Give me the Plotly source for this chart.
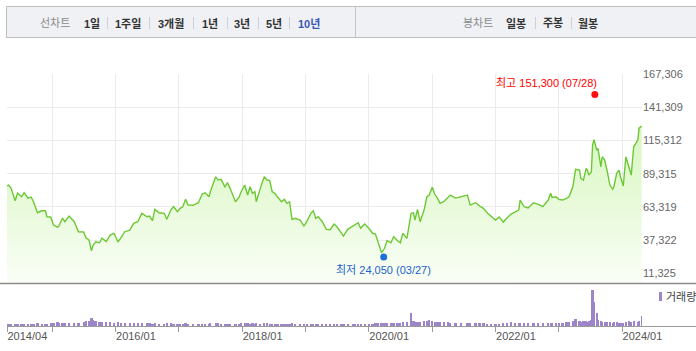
import plotly.graph_objects as go

# ---------------- data ----------------
dates = [
    "2014-04-15", "2014-04-23", "2014-05-08", "2014-06-01", "2014-06-15", "2014-07-08", "2014-07-23", "2014-08-15", "2014-09-01", "2014-09-15",
    "2014-10-08", "2014-11-01", "2014-11-23", "2014-12-01", "2014-12-23", "2015-01-08", "2015-02-01", "2015-02-08", "2015-03-01", "2015-03-15",
    "2015-04-08", "2015-05-08", "2015-06-01", "2015-07-01", "2015-07-15", "2015-08-01", "2015-08-15", "2015-08-23", "2015-09-08", "2015-10-01",
    "2015-10-15", "2015-11-08", "2015-12-01", "2015-12-23", "2016-01-15", "2016-02-01", "2016-02-23", "2016-03-23", "2016-04-15", "2016-05-08",
    "2016-06-01", "2016-07-01", "2016-07-15", "2016-08-01", "2016-08-15", "2016-09-08", "2016-10-08", "2016-10-23", "2016-11-15", "2016-12-01",
    "2016-12-23", "2017-01-08", "2017-01-23", "2017-02-08", "2017-02-23", "2017-03-23", "2017-04-23", "2017-05-15", "2017-06-01", "2017-06-23",
    "2017-07-01", "2017-08-01", "2017-08-15", "2017-09-01", "2017-09-23", "2017-10-08", "2017-10-23", "2017-11-23", "2017-12-15", "2017-12-23",
    "2018-01-15", "2018-02-01", "2018-02-15", "2018-03-01", "2018-03-15", "2018-03-23", "2018-04-15", "2018-05-08", "2018-05-23", "2018-06-08",
    "2018-06-23", "2018-07-08", "2018-07-23", "2018-08-15", "2018-09-01", "2018-09-15", "2018-10-01", "2018-10-15", "2018-11-01", "2018-12-01",
    "2018-12-23", "2019-01-08", "2019-02-01", "2019-02-15", "2019-03-01", "2019-03-15", "2019-04-08", "2019-05-01", "2019-05-23", "2019-06-15",
    "2019-07-01", "2019-07-23", "2019-08-08", "2019-09-01", "2019-10-01", "2019-10-15", "2019-11-01", "2019-11-15", "2019-12-08", "2020-01-01",
    "2020-01-23", "2020-02-08", "2020-02-23", "2020-03-15", "2020-04-01", "2020-04-15", "2020-05-08", "2020-05-23", "2020-06-15", "2020-07-01",
    "2020-07-15", "2020-08-08", "2020-09-01", "2020-09-15", "2020-09-23", "2020-10-08", "2020-10-23", "2020-11-15", "2020-12-01", "2020-12-15",
    "2021-01-01", "2021-01-15", "2021-02-01", "2021-02-15", "2021-03-08", "2021-04-01", "2021-04-15", "2021-05-15", "2021-06-15", "2021-07-23",
    "2021-08-08", "2021-09-08", "2021-10-01", "2021-10-23", "2021-11-15", "2021-12-08", "2022-01-01", "2022-01-23", "2022-02-15", "2022-03-08",
    "2022-04-01", "2022-04-23", "2022-05-15", "2022-05-23", "2022-06-15", "2022-07-08", "2022-08-08", "2022-09-01", "2022-10-01", "2022-11-01",
    "2022-11-15", "2022-11-23", "2022-12-15", "2023-01-01", "2023-01-23", "2023-02-15", "2023-03-01", "2023-03-23", "2023-04-08", "2023-05-01",
    "2023-05-08", "2023-05-23", "2023-06-08", "2023-06-15", "2023-06-23", "2023-07-08", "2023-07-15", "2023-07-23", "2023-08-08", "2023-08-15",
    "2023-09-01", "2023-09-08", "2023-09-23", "2023-10-08", "2023-10-23", "2023-11-08", "2023-11-15", "2023-12-01", "2023-12-15", "2023-12-23",
    "2024-01-08", "2024-01-23", "2024-02-08", "2024-02-23", "2024-03-08", "2024-04-01", "2024-04-08", "2024-04-23",
]

close = [
    79650, 80450, 78100, 68150, 74150, 71250, 74400, 70250, 71050, 67350,
    58750, 60300, 60300, 55600, 55400, 49100, 47550, 48350, 54600, 51700,
    56150, 51700, 43900, 43700, 38950, 37400, 29000, 32700, 36050, 35250,
    38950, 36050, 41300, 42650, 36050, 38950, 43900, 45200, 50450, 51700,
    58300, 55600, 56150, 52500, 61400, 58750, 58300, 53600, 60850, 63450,
    59550, 62200, 63450, 69250, 64800, 64600, 66600, 73400, 74400, 71250,
    75200, 86900, 84350, 84900, 79100, 82250, 77850, 67350, 71250, 74400,
    80450, 72600, 79100, 73950, 75200, 67350, 77850, 86900, 84350, 84100,
    75200, 73950, 71250, 67350, 69250, 66100, 67350, 53600, 54350, 53050,
    48350, 51700, 58300, 60300, 54350, 55600, 51700, 45750, 45500, 49900,
    47800, 43900, 40500, 45750, 48350, 49100, 50900, 46550, 49900, 46550,
    42650, 42100, 36050, 27450, 30900, 36850, 35250, 39950, 36850, 35250,
    42650, 38700, 58300, 58750, 53050, 61400, 51700, 60850, 71250, 72600,
    78650, 73400, 70000, 66100, 67350, 71050, 72600, 70250, 71250, 72600,
    64800, 66600, 64000, 62200, 58500, 56150, 53050, 55400, 51450, 54600,
    57750, 59300, 60850, 68700, 63450, 62450, 66600, 65550, 63450, 68700,
    73950, 70800, 71250, 69250, 68700, 70000, 71250, 79100, 92700, 92150,
    85650, 84350, 93500, 92150, 88250, 90850, 111750, 116050, 107800, 109150,
    94750, 102600, 100000, 90850, 80450, 77300, 79100, 89600, 92150, 86700,
    79650, 102600, 96100, 88250, 110400, 115650, 125050, 126600,
]

volume = [
    550000, 600000, 520000, 580000, 540000, 600000, 560000, 520000, 610000, 580000,
    650000, 560000, 590000, 620000, 700000, 760000, 1000000, 820000, 740000, 800000,
    720000, 780000, 860000, 900000, 1300000, 1150000, 2000000, 1600000, 1250000, 1000000,
    950000, 900000, 1050000, 820000, 900000, 800000, 760000, 850000, 700000, 740000,
    700000, 760000, 650000, 600000, 700000, 620000, 580000, 800000, 640000, 600000,
    580000, 620000, 560000, 650000, 600000, 560000, 580000, 620000, 600000, 560000,
    640000, 700000, 650000, 620000, 600000, 580000, 620000, 560000, 600000, 640000,
    700000, 660000, 600000, 640000, 620000, 680000, 600000, 720000, 680000, 620000,
    600000, 580000, 560000, 600000, 580000, 620000, 560000, 680000, 600000, 560000,
    540000, 580000, 560000, 600000, 560000, 540000, 520000, 560000, 540000, 580000,
    560000, 540000, 520000, 560000, 580000, 560000, 600000, 560000, 540000, 620000,
    600000, 640000, 700000, 820000, 760000, 700000, 680000, 740000, 800000, 760000,
    900000, 1100000, 3200000, 1300000, 1000000, 1100000, 900000, 1200000, 1300000, 1500000,
    1200000, 1100000, 1000000, 900000, 1000000, 950000, 800000, 850000, 780000, 760000,
    700000, 720000, 680000, 640000, 620000, 600000, 620000, 600000, 640000, 700000,
    1000000, 760000, 700000, 800000, 720000, 680000, 740000, 700000, 660000, 720000,
    760000, 700000, 780000, 720000, 740000, 900000, 1000000, 1200000, 1700000, 1300000,
    1100000, 1200000, 1300000, 1100000, 1200000, 1500000, 9000000, 6000000, 3200000, 1500000,
    1200000, 1100000, 1000000, 950000, 900000, 850000, 900000, 950000, 850000, 800000,
    750000, 1100000, 1200000, 1000000, 1150000, 1100000, 1300000, 2500000,
]

x_tick_vals = ["2014-04-15", "2015-01-01", "2016-01-01", "2017-01-01", "2018-01-01", "2019-01-01",
               "2020-01-01", "2021-01-01", "2022-01-01", "2023-01-01", "2024-01-01"]
x_tick_text = ["2014/04", "", "2016/01", "", "2018/01", "", "2020/01", "", "2022/01", "", "2024/01"]
y_tick_vals = [11325, 37322, 63319, 89315, 115312, 141309, 167306]
y_tick_text = ["11,325", "37,322", "63,319", "89,315", "115,312", "141,309", "167,306"]

max_date, max_value, max_label = "2023-07-28", 151300, "최고 151,300 (07/28)"
min_date, min_value, min_label = "2020-03-27", 24050, "최저 24,050 (03/27)"

line_menu = ["1일", "1주일", "3개월", "1년", "3년", "5년", "10년"]
candle_menu = ["일봉", "주봉", "월봉"]

# ---------------- layout helpers ----------------
W, H = 696, 351
def PX(x):
    return x / W
def PY(y):
    return 1 - y / H

X_START, X_END = "2014-04-15", "2024-04-25"
Y_MIN, Y_MAX = 3734, 167400
VOL_TOP = 10750000
DAY_MS = 86400000

KFONT = "Liberation Sans, Noto Sans CJK KR, sans-serif"
NFONT = "Liberation Sans, Arial, sans-serif"

fig = go.Figure()

fig.add_trace(go.Scatter(
    x=dates, y=close, mode="lines",
    line=dict(color="#6cc934", width=1.4),
    fill="tozeroy",
    fillgradient=dict(type="vertical",
                      colorscale=[[0, "rgb(250,254,246)"], [1, "rgb(214,246,190)"]],
                      start=Y_MIN, stop=130000),
    xaxis="x", yaxis="y", hoverinfo="skip",
))

fig.add_trace(go.Scatter(
    x=[max_date], y=[max_value], mode="markers",
    marker=dict(color="#ff1010", size=7), xaxis="x", yaxis="y", hoverinfo="skip",
))
fig.add_trace(go.Scatter(
    x=[min_date], y=[min_value], mode="markers",
    marker=dict(color="#1f6fd8", size=7), xaxis="x", yaxis="y", hoverinfo="skip",
))

fig.add_trace(go.Bar(
    x=dates, y=volume, marker=dict(color="#9c86c9", line=dict(width=0)),
    width=[13 * DAY_MS] * len(dates),
    xaxis="x2", yaxis="y2", hoverinfo="skip",
))

annotations = [
    dict(x=max_date, y=max_value, xref="x", yref="y", text=max_label, showarrow=False,
         xanchor="right", yanchor="middle", xshift=4, yshift=12,
         font=dict(family=KFONT, size=11, color="#ff0000")),
    dict(x=min_date, y=min_value, xref="x", yref="y", text=min_label, showarrow=False,
         xanchor="center", yanchor="middle", yshift=-13,
         font=dict(family=KFONT, size=11, color="#1a64cc")),
    dict(x=PX(664), y=PY(297), xref="paper", yref="paper", text="거래량", showarrow=False,
         xanchor="left", yanchor="middle", font=dict(family=KFONT, size=11, color="#444")),
]

# header menu texts
line_centers = [91.5, 127.5, 171, 209.5, 241.5, 273.5, 308.5]
candle_centers = [516, 553, 588]
annotations.append(dict(x=PX(55), y=PY(23), xref="paper", yref="paper", text="선차트",
                        xanchor="center", yanchor="middle",
                        showarrow=False, font=dict(family=KFONT, size=11, color="#8a8a8a")))
annotations.append(dict(x=PX(478), y=PY(23), xref="paper", yref="paper", text="봉차트",
                        xanchor="center", yanchor="middle",
                        showarrow=False, font=dict(family=KFONT, size=11, color="#8a8a8a")))
for i, (t, cx) in enumerate(zip(line_menu, line_centers)):
    col = "#3a58b5" if i == len(line_menu) - 1 else "#333333"
    annotations.append(dict(x=PX(cx), y=PY(23), xref="paper", yref="paper", text="<b>%s</b>" % t,
                            xanchor="center", yanchor="middle",
                            showarrow=False, font=dict(family=KFONT, size=11, color=col)))
for t, cx in zip(candle_menu, candle_centers):
    annotations.append(dict(x=PX(cx), y=PY(23), xref="paper", yref="paper", text="<b>%s</b>" % t,
                            xanchor="center", yanchor="middle",
                            showarrow=False, font=dict(family=KFONT, size=11, color="#333333")))

shapes = [
    dict(type="rect", xref="paper", yref="paper", x0=PX(6.5), x1=PX(697), y0=PY(37.5), y1=PY(6.5),
         fillcolor="#f0f1f5", line=dict(color="#bdbdbd", width=1), layer="below"),
    dict(type="line", xref="paper", yref="paper", x0=PX(355.5), x1=PX(355.5), y0=PY(37), y1=PY(7),
         line=dict(color="#c4c4c4", width=1)),
    dict(type="line", xref="paper", yref="paper", x0=0, x1=1, y0=PY(283.5), y1=PY(283.5),
         line=dict(color="#8c8c8c", width=1.5)),
    dict(type="line", xref="paper", yref="paper", x0=PX(7), x1=1, y0=PY(326.5), y1=PY(326.5),
         line=dict(color="#9a9a9a", width=1)),
    dict(type="rect", xref="paper", yref="paper", x0=PX(659), x1=PX(662), y0=PY(301), y1=PY(292),
         fillcolor="#9c86c9", line=dict(width=0)),
]
for sx in [107, 149, 193, 227, 258, 289, 535, 571]:
    shapes.append(dict(type="line", xref="paper", yref="paper", x0=PX(sx + 0.5), x1=PX(sx + 0.5),
                       y0=PY(29), y1=PY(17), line=dict(color="#d0d0d0", width=1)))

fig.update_layout(
    width=W, height=H,
    margin=dict(l=0, r=0, t=0, b=0, autoexpand=False),
    paper_bgcolor="white", plot_bgcolor="white",
    showlegend=False, hovermode=False, bargap=0,
    xaxis=dict(domain=[PX(7), PX(642)], range=[X_START, X_END], type="date", anchor="y",
               automargin=False,
               tickvals=x_tick_vals, showticklabels=False, ticks="",
               showgrid=True, gridcolor="#ebebeb", gridwidth=1, zeroline=False, showline=False),
    yaxis=dict(domain=[PY(283), PY(74)], range=[Y_MIN, Y_MAX], anchor="x", side="right",
               automargin=False,
               tickvals=y_tick_vals, ticktext=y_tick_text, ticks="",
               tickfont=dict(family=NFONT, size=11, color="#666"),
               showgrid=True, gridcolor="#ebebeb", gridwidth=1, zeroline=False, showline=False),
    xaxis2=dict(domain=[PX(7), PX(642)], matches="x", type="date", anchor="y2",
                automargin=False,
                tickvals=x_tick_vals, ticktext=x_tick_text, ticks="outside", ticklen=5,
                tickcolor="#9a9a9a", ticklabelposition="outside right",
                tickfont=dict(family=NFONT, size=11, color="#555"),
                showgrid=False, zeroline=False, showline=False),
    yaxis2=dict(domain=[PY(326), PY(283)], range=[0, VOL_TOP], anchor="x2", visible=False,
                automargin=False),
    annotations=annotations,
    shapes=shapes,
)

fig.write_html("out.html")
